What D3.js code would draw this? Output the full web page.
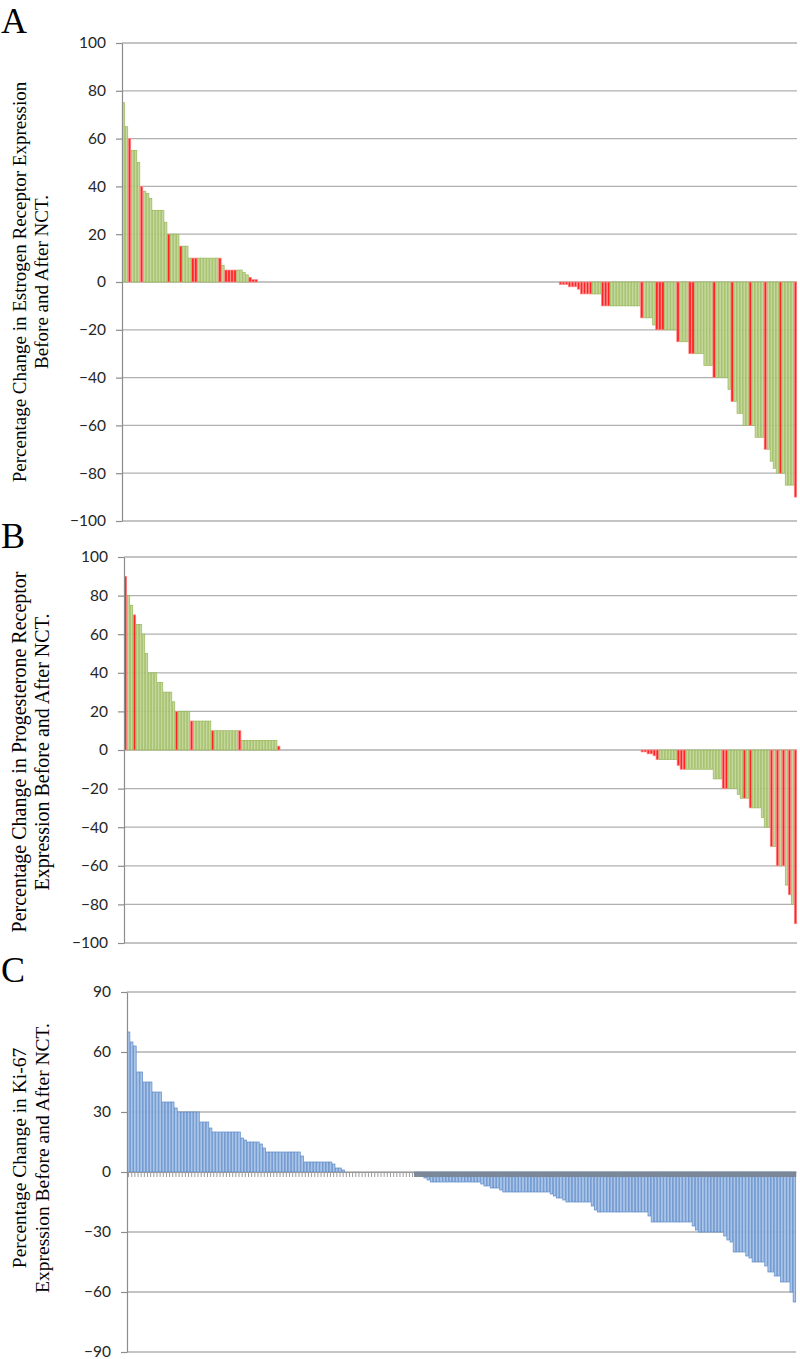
<!DOCTYPE html>
<html>
<head>
<meta charset="utf-8">
<script src="https://cdn.jsdelivr.net/npm/d3@7"></script>
<style>
  body { margin: 0; background: #fff; }
</style>
</head>
<body>
<div id="chart"></div>
<script>
console.log("waterfall plots loading");

// ---- Panel A: estrogen receptor, % change per patient (sorted) ----
var erChange = [
  75,65,60,55,55,50,40,38,37,35,
  30,30,30,30,25,20,20,20,20,15,
  15,15,10,10,10,10,10,10,10,10,
  10,10,10,7,5,5,5,5,5,5,
  4,3,2,1,1,
  0,0,0,0,0,0,0,0,0,0,
  0,0,0,0,0,0,0,0,0,0,
  0,0,0,0,0,0,0,0,0,0,
  0,0,0,0,0,0,0,0,0,0,
  0,0,0,0,0,0,0,0,0,0,
  0,0,0,0,0,0,0,0,0,0,
  0,0,0,0,0,0,0,0,0,0,
  0,0,0,0,0,0,0,0,0,0,
  0,0,0,0,0,0,0,0,0,0,
  0,0,0,0,0,0,0,0,0,0,
  -1,-1,-1,-2,-2,-2,-3,-5,-5,-5,
  -5,-5,-5,-5,-10,-10,-10,-10,-10,-10,
  -10,-10,-10,-10,-10,-10,-10,-15,-15,-15,
  -15,-18,-20,-20,-20,-20,-20,-20,-20,-25,
  -25,-25,-25,-30,-30,-30,-30,-30,-35,-35,
  -35,-40,-40,-40,-40,-40,-45,-50,-50,-55,
  -55,-60,-60,-60,-60,-65,-65,-65,-70,-70,
  -75,-78,-80,-80,-80,-85,-85,-85,-90
];
// 1 = red bar, 0 = green bar
var erFlag = [
  0,0,1,0,0,0,1,0,0,0,
  0,0,0,0,0,1,0,0,0,1,
  0,0,0,1,1,0,0,0,0,0,
  0,0,1,0,1,1,1,1,0,0,
  0,0,1,1,1,
  0,0,0,0,0,0,0,0,0,0,
  0,0,0,0,0,0,0,0,0,0,
  0,0,0,0,0,0,0,0,0,0,
  0,0,0,0,0,0,0,0,0,0,
  0,0,0,0,0,0,0,0,0,0,
  0,0,0,0,0,0,0,0,0,0,
  0,0,0,0,0,0,0,0,0,0,
  0,0,0,0,0,0,0,0,0,0,
  0,0,0,0,0,0,0,0,0,0,
  0,0,0,0,0,0,0,0,0,0,
  1,1,1,1,1,1,1,1,1,1,
  1,0,0,0,1,1,1,0,0,0,
  0,0,0,0,0,0,0,1,0,0,
  0,0,1,1,1,0,0,0,0,1,
  0,0,0,1,1,0,0,0,0,0,
  0,1,0,0,0,0,0,1,0,0,
  0,0,0,1,0,0,0,0,1,0,
  0,0,0,1,0,0,0,0,1
];

// ---- Panel B: progesterone receptor ----
var prChange = [
  90,80,75,70,65,65,60,50,40,40,
  40,35,35,30,30,30,25,20,20,20,
  20,20,15,15,15,15,15,15,15,10,
  10,10,10,10,10,10,10,10,10,5,
  5,5,5,5,5,5,5,5,5,5,
  5,2,
  0,0,0,0,0,0,0,0,0,0,
  0,0,0,0,0,0,0,0,0,0,
  0,0,0,0,0,0,0,0,0,0,
  0,0,0,0,0,0,0,0,0,0,
  0,0,0,0,0,0,0,0,0,0,
  0,0,0,0,0,0,0,0,0,0,
  0,0,0,0,0,0,0,0,0,0,
  0,0,0,0,0,0,0,0,0,0,
  0,0,0,0,0,0,0,0,0,0,
  0,0,0,0,0,0,0,0,0,0,
  0,0,0,0,0,0,0,0,0,0,
  0,0,0,0,0,0,0,0,0,0,
  -1,-1,-2,-2,-3,-5,-5,-5,-5,-5,
  -5,-5,-8,-10,-10,-10,-10,-10,-10,-10,
  -10,-10,-10,-10,-15,-15,-15,-20,-20,-20,
  -20,-20,-23,-25,-25,-25,-30,-30,-30,-30,
  -35,-40,-40,-50,-50,-60,-60,-60,-70,-75,
  -80,-90
];
var prFlag = [
  1,0,0,1,0,0,0,0,0,0,
  0,0,0,0,0,0,0,1,0,0,
  0,0,1,0,0,0,0,0,0,1,
  0,0,0,0,0,0,0,0,1,0,
  0,0,0,0,0,0,0,0,0,0,
  0,1,
  0,0,0,0,0,0,0,0,0,0,
  0,0,0,0,0,0,0,0,0,0,
  0,0,0,0,0,0,0,0,0,0,
  0,0,0,0,0,0,0,0,0,0,
  0,0,0,0,0,0,0,0,0,0,
  0,0,0,0,0,0,0,0,0,0,
  0,0,0,0,0,0,0,0,0,0,
  0,0,0,0,0,0,0,0,0,0,
  0,0,0,0,0,0,0,0,0,0,
  0,0,0,0,0,0,0,0,0,0,
  0,0,0,0,0,0,0,0,0,0,
  0,0,0,0,0,0,0,0,0,0,
  1,1,1,1,1,1,0,0,0,0,
  0,0,1,1,1,0,0,0,0,0,
  0,0,0,0,0,0,0,1,1,0,
  0,0,0,0,1,0,1,0,0,0,
  0,0,0,1,0,1,0,1,0,1,
  0,1
];

// ---- Panel C: Ki-67 ----
var kiChange = [
  70,65,63,50,50,45,45,45,40,40,
  40,35,35,35,35,32,30,30,30,30,
  30,30,30,25,25,25,22,20,20,20,
  20,20,20,20,20,20,17,16,15,15,
  15,15,14,12,10,10,10,10,10,10,
  10,10,10,10,10,8,5,5,5,5,
  5,5,5,5,5,4,2,2,1,
  0,0,0,0,0,0,0,0,0,0,
  0,0,0,0,0,0,0,0,0,0,
  0,0,
  -1,-1,-2,-3,-4,-5,-5,-5,-5,-5,
  -5,-5,-5,-5,-5,-5,-5,-5,-5,-5,
  -5,-6,-7,-7,-8,-8,-8,-9,-10,-10,
  -10,-10,-10,-10,-10,-10,-10,-10,-10,-10,
  -10,-10,-10,-11,-12,-13,-13,-14,-15,-15,
  -15,-15,-15,-15,-15,-15,-17,-19,-20,-20,
  -20,-20,-20,-20,-20,-20,-20,-20,-20,-20,
  -20,-20,-20,-20,-22,-25,-25,-25,-25,-25,
  -25,-25,-25,-25,-25,-25,-25,-25,-27,-29,
  -30,-30,-30,-30,-30,-30,-30,-30,-32,-34,
  -35,-40,-40,-40,-40,-42,-43,-45,-45,-45,
  -45,-47,-50,-50,-52,-52,-55,-55,-55,-60,
  -65
];

var erTicks = [100, 80, 60, 40, 20, 0, -20, -40, -60, -80, -100];
var kiTicks = [90, 60, 30, 0, -30, -60, -90];

var colors = {
  green: { fill: "#c4d79c", stroke: "#98b858" },
  red: { fill: "#ff2424", stroke: "#ff8888" },
  blue: { fill: "#a9c4e8", stroke: "#5a88c6" }
};

var svg = d3.select("#chart")
  .append("svg")
  .attr("width", 800)
  .attr("height", 1359);

// Draw one waterfall panel
function drawPanel(p) {
  var g = svg.append("g");

  var x = d3.scaleBand()
    .domain(d3.range(p.values.length))
    .range([p.left, p.right])
    .padding(0);

  var y = d3.scaleLinear()
    .domain([p.ticks[p.ticks.length - 1], p.ticks[0]])
    .range([p.bottom, p.top]);

  // horizontal gridlines
  g.append("g")
    .selectAll("line")
    .data(p.ticks)
    .enter()
    .append("line")
    .attr("x1", p.left)
    .attr("x2", p.right)
    .attr("y1", d => y(d))
    .attr("y2", d => y(d))
    .attr("stroke", "#b0b0b0")
    .attr("stroke-width", 1.3);

  var bw = x.bandwidth();
  var bars = p.values.map((v, i) => ({ i: i, v: v, f: p.flags ? p.flags[i] : 2 }))
    .filter(d => d.v !== 0);

  function barColor(d) {
    if (d.f === 2) return colors.blue;
    return d.f === 1 ? colors.red : colors.green;
  }

  g.append("g")
    .selectAll("rect")
    .data(bars)
    .enter()
    .append("rect")
    .attr("x", d => x(d.i) + 0.3)
    .attr("width", bw - 0.6)
    .attr("y", d => Math.min(y(d.v), y(0)))
    .attr("height", d => Math.abs(y(d.v) - y(0)))
    .attr("fill", d => barColor(d).fill)
    .attr("stroke", d => barColor(d).stroke)
    .attr("stroke-width", 0.7);

  // category axis with tick marks (Ki-67 panel only)
  if (p.catTicks) {
    var xAxis = d3.axisBottom(x).tickSize(5).tickSizeOuter(0).tickFormat("");
    var xg = g.append("g")
      .attr("transform", `translate(0, ${y(0)})`)
      .call(xAxis);
    xg.selectAll("line").attr("stroke", "#9a9a9a").attr("stroke-width", 1);
    xg.select(".domain").attr("stroke", "#9a9a9a");

    g.append("g")
      .selectAll("rect")
      .data(bars.filter(d => d.v < 0))
      .enter()
      .append("rect")
      .attr("x", d => x(d.i))
      .attr("width", bw + 0.2)
      .attr("y", y(0))
      .attr("height", 5)
      .attr("fill", "#7b8796");
  }

  // value axis
  var yAxis = d3.axisLeft(y)
    .tickValues(p.ticks)
    .tickSize(6)
    .tickSizeOuter(0)
    .tickPadding(10);

  var yg = g.append("g")
    .attr("transform", `translate(${p.left}, 0)`)
    .call(yAxis);
  yg.select(".domain").attr("stroke", "#8c8c8c").attr("stroke-width", 1.2);
  yg.selectAll(".tick line").attr("stroke", "#8c8c8c").attr("stroke-width", 1.2);
  yg.selectAll("text")
    .attr("font-family", "Lato, 'Open Sans', sans-serif")
    .attr("font-size", 15.5)
    .attr("fill", "#262626");

  // panel letter
  g.append("text")
    .attr("x", 1)
    .attr("y", p.letterY)
    .attr("font-family", "'Liberation Serif', 'Times New Roman', serif")
    .attr("font-size", 36)
    .attr("fill", "#000")
    .text(p.letter);

  // rotated axis title, two lines
  p.title.forEach(function(line, k) {
    g.append("text")
      .attr("transform", `translate(${p.titleX[k]}, ${p.titleY}) rotate(-90)`)
      .attr("text-anchor", "middle")
      .attr("font-family", "'Liberation Serif', 'Times New Roman', serif")
      .attr("font-size", p.titleSize)
      .attr("fill", "#000")
      .text(line);
  });
}

drawPanel({
  values: erChange, flags: erFlag, ticks: erTicks,
  left: 122, right: 797, top: 43, bottom: 521,
  letter: "A", letterY: 33,
  title: ["Percentage Change in Estrogen Receptor Expression", "Before and After NCT."],
  titleX: [26, 48], titleY: 282, titleSize: 19
});

drawPanel({
  values: prChange, flags: prFlag, ticks: erTicks,
  left: 124, right: 797, top: 557, bottom: 943,
  letter: "B", letterY: 548,
  title: ["Percentage Change in Progesterone Receptor", "Expression Before and After NCT."],
  titleX: [26, 49], titleY: 752, titleSize: 20
});

drawPanel({
  values: kiChange, flags: null, ticks: kiTicks,
  left: 127, right: 796, top: 992, bottom: 1352,
  letter: "C", letterY: 982, catTicks: true,
  title: ["Percentage Change in Ki-67", "Expression Before and After NCT."],
  titleX: [26, 49], titleY: 1158, titleSize: 19.5
});
</script>
</body>
</html>
